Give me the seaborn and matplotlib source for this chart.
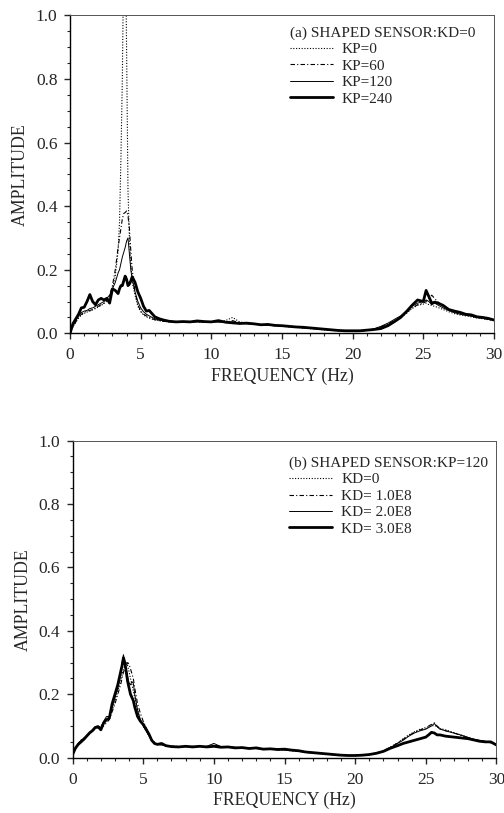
import numpy as np
import pandas as pd
import matplotlib
matplotlib.use("Agg")
import matplotlib.pyplot as plt
import seaborn as sns
from matplotlib.ticker import MultipleLocator, FormatStrFormatter

# frequency grid (Hz)
freq = [0, 0.2, 0.4, 0.6, 0.8, 1.0, 1.2, 1.4, 1.6, 1.8,
        2.0, 2.2, 2.4, 2.6, 2.8, 3.0, 3.2, 3.4, 3.5, 3.6,
        3.7, 3.8, 3.9, 4.0, 4.1, 4.2, 4.3, 4.4, 4.6, 4.8,
        5.0, 5.2, 5.4, 5.6, 5.8, 6.0, 6.3, 6.6, 7.0, 7.5,
        8.0, 8.5, 9.0, 9.5, 10.0, 10.5, 11.0, 11.5, 12.0, 12.5,
        13.0, 13.5, 14.0, 14.5, 15.0, 15.5, 16.0, 16.5, 17.0, 17.5,
        18.0, 18.5, 19.0, 19.5, 20.0, 20.5, 21.0, 21.5, 22.0, 22.5,
        23.0, 23.4, 23.8, 24.2, 24.6, 25.0, 25.2, 25.4, 25.6, 25.8,
        26.0, 26.4, 26.8, 27.2, 27.6, 28.0, 28.4, 28.8, 29.2, 29.6, 30.0]

# (a) shaped sensor, KD=0
kp0 = [0, 0.02, 0.035, 0.048, 0.058, 0.063, 0.067, 0.07, 0.074, 0.078,
       0.083, 0.088, 0.094, 0.1, 0.115, 0.14, 0.18, 0.26, 0.35, 0.55,
       0.8, 1.2, 1.3, 0.9, 0.45, 0.3, 0.22, 0.16, 0.12, 0.085,
       0.068, 0.058, 0.052, 0.048, 0.045, 0.042, 0.04, 0.038, 0.036, 0.035,
       0.035, 0.036, 0.036, 0.037, 0.037, 0.037, 0.04, 0.05, 0.036, 0.032,
       0.029, 0.027, 0.026, 0.024, 0.022, 0.02, 0.019, 0.017, 0.015, 0.013,
       0.011, 0.009, 0.008, 0.007, 0.006, 0.007, 0.009, 0.013, 0.02, 0.03,
       0.04, 0.05, 0.062, 0.078, 0.088, 0.092, 0.095, 0.09, 0.088, 0.085,
       0.082, 0.075, 0.068, 0.062, 0.058, 0.055, 0.052, 0.048, 0.046, 0.043, 0.04]
kp60 = [0, 0.02, 0.035, 0.05, 0.06, 0.065, 0.07, 0.072, 0.075, 0.08,
        0.085, 0.09, 0.095, 0.105, 0.12, 0.15, 0.2, 0.27, 0.3, 0.33,
        0.36, 0.377, 0.38, 0.385, 0.37, 0.33, 0.26, 0.2, 0.13, 0.09,
        0.07, 0.06, 0.055, 0.05, 0.046, 0.043, 0.04, 0.038, 0.036, 0.035,
        0.035, 0.035, 0.037, 0.035, 0.036, 0.037, 0.035, 0.04, 0.033, 0.031,
        0.029, 0.028, 0.026, 0.024, 0.023, 0.021, 0.019, 0.017, 0.016, 0.014,
        0.012, 0.01, 0.008, 0.007, 0.007, 0.007, 0.009, 0.013, 0.02, 0.03,
        0.04, 0.052, 0.066, 0.08, 0.09, 0.095, 0.1, 0.11, 0.12, 0.11,
        0.1, 0.085, 0.075, 0.068, 0.062, 0.058, 0.055, 0.05, 0.047, 0.044, 0.04]
kp120 = [0, 0.025, 0.04, 0.055, 0.065, 0.07, 0.072, 0.078, 0.08, 0.085,
         0.09, 0.095, 0.1, 0.11, 0.12, 0.14, 0.16, 0.19, 0.2, 0.22,
         0.24, 0.255, 0.27, 0.29, 0.3, 0.25, 0.2, 0.17, 0.13, 0.1,
         0.08, 0.068, 0.06, 0.055, 0.05, 0.046, 0.042, 0.04, 0.037, 0.036,
         0.035, 0.036, 0.036, 0.035, 0.036, 0.035, 0.034, 0.036, 0.032, 0.03,
         0.029, 0.027, 0.026, 0.025, 0.023, 0.021, 0.02, 0.018, 0.016, 0.014,
         0.012, 0.01, 0.009, 0.008, 0.007, 0.008, 0.01, 0.014, 0.022, 0.032,
         0.045, 0.055, 0.07, 0.085, 0.095, 0.1, 0.105, 0.1, 0.09, 0.095,
         0.09, 0.08, 0.072, 0.065, 0.06, 0.057, 0.054, 0.05, 0.048, 0.045, 0.042]
kp240 = [0, 0.03, 0.045, 0.06, 0.08, 0.082, 0.1, 0.122, 0.1, 0.09,
         0.105, 0.11, 0.105, 0.11, 0.095, 0.14, 0.135, 0.125, 0.14, 0.15,
         0.15, 0.165, 0.18, 0.17, 0.15, 0.155, 0.165, 0.178, 0.16, 0.13,
         0.11, 0.085, 0.07, 0.072, 0.062, 0.052, 0.046, 0.042, 0.038, 0.036,
         0.037, 0.036, 0.039, 0.037, 0.036, 0.04, 0.035, 0.033, 0.031, 0.032,
         0.03, 0.027, 0.028, 0.025, 0.024, 0.022, 0.02, 0.019, 0.017, 0.015,
         0.013, 0.011, 0.009, 0.008, 0.008, 0.008, 0.01, 0.012, 0.015, 0.024,
         0.038, 0.05, 0.068, 0.088, 0.105, 0.1, 0.135, 0.115, 0.095, 0.098,
         0.096, 0.088, 0.075, 0.07, 0.066, 0.06, 0.058, 0.052, 0.05, 0.047, 0.042]

# (b) shaped sensor, KP=120
kd0 = [0.01, 0.03, 0.045, 0.055, 0.062, 0.07, 0.078, 0.085, 0.092, 0.097,
       0.1, 0.11, 0.12, 0.125, 0.15, 0.18, 0.21, 0.24, 0.26, 0.28,
       0.29, 0.3, 0.29, 0.27, 0.25, 0.23, 0.21, 0.19, 0.15, 0.12,
       0.1, 0.085, 0.07, 0.055, 0.046, 0.042, 0.04, 0.038, 0.036, 0.035,
       0.035, 0.035, 0.036, 0.035, 0.038, 0.035, 0.034, 0.032, 0.031, 0.03,
       0.029, 0.028, 0.027, 0.025, 0.024, 0.022, 0.02, 0.017, 0.015, 0.013,
       0.011, 0.009, 0.008, 0.007, 0.007, 0.008, 0.01, 0.014, 0.022, 0.034,
       0.047, 0.06, 0.072, 0.082, 0.09, 0.095, 0.098, 0.1, 0.102, 0.098,
       0.092, 0.088, 0.082, 0.076, 0.07, 0.064, 0.058, 0.054, 0.05, 0.047, 0.042]
kd1 = [0.01, 0.028, 0.045, 0.055, 0.06, 0.068, 0.075, 0.085, 0.09, 0.095,
       0.095, 0.1, 0.11, 0.12, 0.145, 0.17, 0.2, 0.23, 0.25, 0.27,
       0.28, 0.29, 0.3, 0.295, 0.28, 0.265, 0.25, 0.22, 0.17, 0.14,
       0.115, 0.095, 0.075, 0.058, 0.048, 0.043, 0.041, 0.039, 0.037, 0.035,
       0.035, 0.036, 0.036, 0.035, 0.04, 0.035, 0.034, 0.032, 0.031, 0.03,
       0.029, 0.028, 0.027, 0.025, 0.024, 0.022, 0.02, 0.017, 0.015, 0.013,
       0.011, 0.009, 0.008, 0.007, 0.007, 0.008, 0.01, 0.014, 0.022, 0.033,
       0.046, 0.058, 0.07, 0.08, 0.088, 0.092, 0.1, 0.105, 0.11, 0.1,
       0.092, 0.085, 0.08, 0.075, 0.068, 0.062, 0.058, 0.054, 0.05, 0.047, 0.042]
kd2 = [0.01, 0.03, 0.045, 0.055, 0.062, 0.07, 0.08, 0.088, 0.098, 0.1,
       0.095, 0.115, 0.13, 0.13, 0.16, 0.19, 0.22, 0.26, 0.3, 0.325,
       0.3, 0.28, 0.255, 0.235, 0.23, 0.24, 0.235, 0.2, 0.15, 0.12,
       0.1, 0.085, 0.07, 0.055, 0.046, 0.042, 0.04, 0.038, 0.036, 0.035,
       0.035, 0.036, 0.035, 0.036, 0.045, 0.035, 0.035, 0.033, 0.031, 0.03,
       0.029, 0.028, 0.027, 0.026, 0.025, 0.023, 0.021, 0.018, 0.016, 0.014,
       0.012, 0.01, 0.008, 0.007, 0.007, 0.008, 0.01, 0.014, 0.021, 0.032,
       0.045, 0.055, 0.068, 0.078, 0.085, 0.09, 0.095, 0.1, 0.108, 0.098,
       0.09, 0.085, 0.08, 0.075, 0.07, 0.064, 0.058, 0.055, 0.052, 0.048, 0.042]
kd3 = [0.01, 0.03, 0.042, 0.05, 0.058, 0.068, 0.078, 0.085, 0.095, 0.098,
       0.088, 0.11, 0.12, 0.125, 0.17, 0.2, 0.23, 0.27, 0.29, 0.315,
       0.3, 0.27, 0.24, 0.22, 0.2, 0.19, 0.18, 0.16, 0.13, 0.115,
       0.105, 0.09, 0.075, 0.055, 0.045, 0.042, 0.045, 0.038, 0.035, 0.034,
       0.036, 0.034, 0.036, 0.034, 0.036, 0.033, 0.034, 0.031, 0.032, 0.029,
       0.031, 0.027, 0.028, 0.026, 0.027, 0.024, 0.022, 0.018, 0.016, 0.014,
       0.012, 0.01, 0.008, 0.007, 0.007, 0.008, 0.01, 0.014, 0.02, 0.03,
       0.038, 0.045, 0.05, 0.055, 0.06, 0.065, 0.072, 0.08, 0.078, 0.072,
       0.072, 0.068, 0.066, 0.064, 0.062, 0.06, 0.056, 0.052, 0.05, 0.05, 0.04]

labels_a = ["KP=0", "KP=60", "KP=120", "KP=240"]
labels_b = ["KD=0", "KD= 1.0E8", "KD= 2.0E8", "KD= 3.0E8"]
title_a = "(a) SHAPED SENSOR:KD=0"
title_b = "(b) SHAPED SENSOR:KP=120"

sns.set_style("ticks")
plt.rcParams["font.family"] = ["Liberation Serif", "DejaVu Serif"]

# dotted, dash-dot, thin solid, thick solid
styles = [((0, (1, 1.5)), 0.8), ((0, (4, 2, 1, 2)), 0.8), ("-", 0.7), ("-", 2.0)]

fig = plt.figure(figsize=(5.04, 8.13), dpi=100)
ax1 = fig.add_axes([0.139, 0.590, 0.841, 0.391])
ax2 = fig.add_axes([0.144, 0.068, 0.841, 0.390])

panels = [(ax1, [kp0, kp60, kp120, kp240], labels_a, title_a, (0.519, 0.966)),
          (ax2, [kd0, kd1, kd2, kd3], labels_b, title_b, (0.511, 0.950))]

for ax, series, labels, title, anchor in panels:
    for vals, lab, (ls, lw) in zip(series, labels, styles):
        sns.lineplot(x=freq, y=vals, ax=ax, color="black", linestyle=ls,
                     linewidth=lw, label=lab)
    ax.set_xlim(0, 30)
    ax.set_ylim(0, 1.0)
    ax.xaxis.set_major_locator(MultipleLocator(5))
    ax.xaxis.set_minor_locator(MultipleLocator(1))
    ax.yaxis.set_major_locator(MultipleLocator(0.2))
    ax.yaxis.set_minor_locator(MultipleLocator(0.05))
    ax.yaxis.set_major_formatter(FormatStrFormatter("%.1f"))
    ax.tick_params(which="major", direction="out", length=4, width=1, labelsize=12.5)
    ax.tick_params(which="minor", direction="out", length=2.5, width=0.8)
    ax.tick_params(axis="x", which="major", pad=6)
    ax.tick_params(axis="y", which="major", pad=5)
    for s in ["left", "bottom"]:
        ax.spines[s].set_linewidth(1.0)
        ax.spines[s].set_color("black")
    for s in ["top", "right"]:
        ax.spines[s].set_linewidth(0.7)
        ax.spines[s].set_color("#555555")
    ax.set_xlabel("FREQUENCY (Hz)", fontsize=12.8, labelpad=3)
    ax.set_ylabel("AMPLITUDE", fontsize=12.8, labelpad=5)
    leg = ax.legend(title=title, loc="upper left", bbox_to_anchor=anchor,
                    frameon=False, fontsize=11, title_fontsize=11,
                    handlelength=2.8, handletextpad=0.6, labelspacing=0.18,
                    borderpad=0, borderaxespad=0)
    leg._legend_box.align = "left"

fig.savefig("out.png", dpi=100)
